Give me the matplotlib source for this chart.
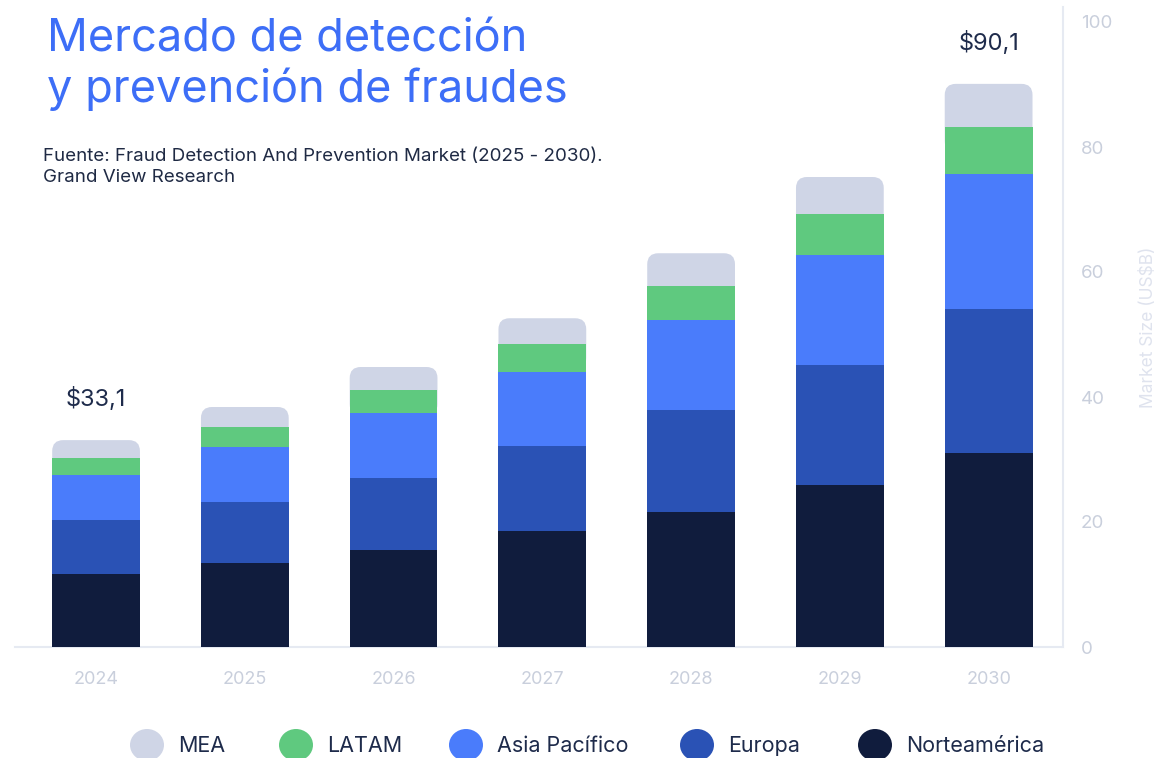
import matplotlib
matplotlib.use("Agg")
import matplotlib.pyplot as plt
from matplotlib.patches import FancyBboxPatch, Ellipse
import numpy as np

plt.rcParams['font.family'] = ['Inter', 'DejaVu Sans']

years = ["2024", "2025", "2026", "2027", "2028", "2029", "2030"]
norteamerica = [11.7, 13.4, 15.5, 18.6, 21.6, 25.9, 31.0]
europa = [8.6, 9.8, 11.5, 13.6, 16.3, 19.2, 23.1]
asia_pacifico = [7.2, 8.8, 10.4, 11.8, 14.4, 17.6, 21.6]
latam = [2.7, 3.2, 3.7, 4.5, 5.5, 6.6, 7.5]
mea = [2.9, 3.2, 3.7, 4.1, 5.2, 5.9, 6.9]
totals_labels = {0: "$33,1", 6: "$90,1"}

series = [("Norteamérica", norteamerica, "#101c3d"),
          ("Europa", europa, "#2a52b5"),
          ("Asia Pacífico", asia_pacifico, "#4a7cfb"),
          ("LATAM", latam, "#5fc97f"),
          ("MEA", mea, "#cfd5e6")]

W, H = 1166, 758
fig = plt.figure(figsize=(W / 100, H / 100), dpi=100)
ax = fig.add_axes([15 / W, 1 - 647 / H, (1063 - 15) / W, (647 - 7) / H])

x = np.arange(len(years))
bw = 0.59
bottom = np.zeros(len(years))
for name, vals, col in series[:-1]:
    ax.bar(x, vals, bw, bottom=bottom, color=col, zorder=3, linewidth=0)
    bottom = bottom + np.array(vals)

# MEA top segment with rounded top corners
name, vals, col = series[-1]
ax.set_xlim(-0.545, 6.5)
ax.set_ylim(0, 102.4)
px_x = (1063 - 15) / (6.5 + 0.545)
px_y = 640 / 102.4
r_px = 11
for i in range(len(years)):
    ext = 4.0
    p = FancyBboxPatch((x[i] - bw / 2, bottom[i] - ext), bw, vals[i] + ext,
                       boxstyle=f"round,pad=0,rounding_size={r_px / px_x}",
                       mutation_aspect=px_x / px_y,
                       facecolor=col, edgecolor="none", zorder=2)
    ax.add_patch(p)

totals = bottom + np.array(vals)
for i, lab in totals_labels.items():
    ax.text(x[i], totals[i] + 5.4, lab, ha="center", va="baseline",
            fontsize=17, color="#1e2b4b")

# axes styling
for s in ["top", "left"]:
    ax.spines[s].set_visible(False)
ax.spines["bottom"].set_color("#e6eaf2")
ax.spines["right"].set_color("#e6eaf2")
ax.spines["bottom"].set_linewidth(1.5)
ax.spines["right"].set_linewidth(1.5)
ax.yaxis.tick_right()
ax.yaxis.set_label_position("right")
ax.set_yticks([0, 20, 40, 60, 80, 100])
ax.tick_params(axis="y", length=0, pad=13, labelsize=13.5, labelcolor="#c9cfdc")
ax.set_xticks(x)
ax.set_xticklabels(years)
ax.tick_params(axis="x", length=0, pad=17, labelsize=13, labelcolor="#c9cfdc")
ax.set_ylabel("Market Size (US$B)", fontsize=12.5, color="#dfe3ee", labelpad=20)

# title & source
fig.text(47 / W, 1 - 52 / H, "Mercado de detección", fontsize=32.5,
         color="#3d6ef7", va="baseline", ha="left")
fig.text(47 / W, 1 - 102 / H, "y prevención de fraudes", fontsize=32.5,
         color="#3d6ef7", va="baseline", ha="left")
fig.text(43 / W, 1 - 161 / H, "Fuente: Fraud Detection And Prevention Market (2025 - 2030).",
         fontsize=13.5, color="#1f2a44", va="baseline", ha="left")
fig.text(43 / W, 1 - 182 / H, "Grand View Research",
         fontsize=13.5, color="#1f2a44", va="baseline", ha="left")

# legend (manual)
leg = [("MEA", "#cfd5e6", 147), ("LATAM", "#5fc97f", 296),
       ("Asia Pacífico", "#4a7cfb", 466), ("Europa", "#2a52b5", 697),
       ("Norteamérica", "#101c3d", 875)]
cy = 1 - 745 / H
for lab, col, cx in leg:
    e = Ellipse((cx / W, cy), 34 / W, 32 / H, transform=fig.transFigure,
                facecolor=col, edgecolor="none")
    fig.patches.append(e)
    fig.text((cx + 31) / W, cy - 1 / H, lab, fontsize=15.5, color="#1e2b4b",
             va="center", ha="left")

fig.savefig("out.png", dpi=100)
